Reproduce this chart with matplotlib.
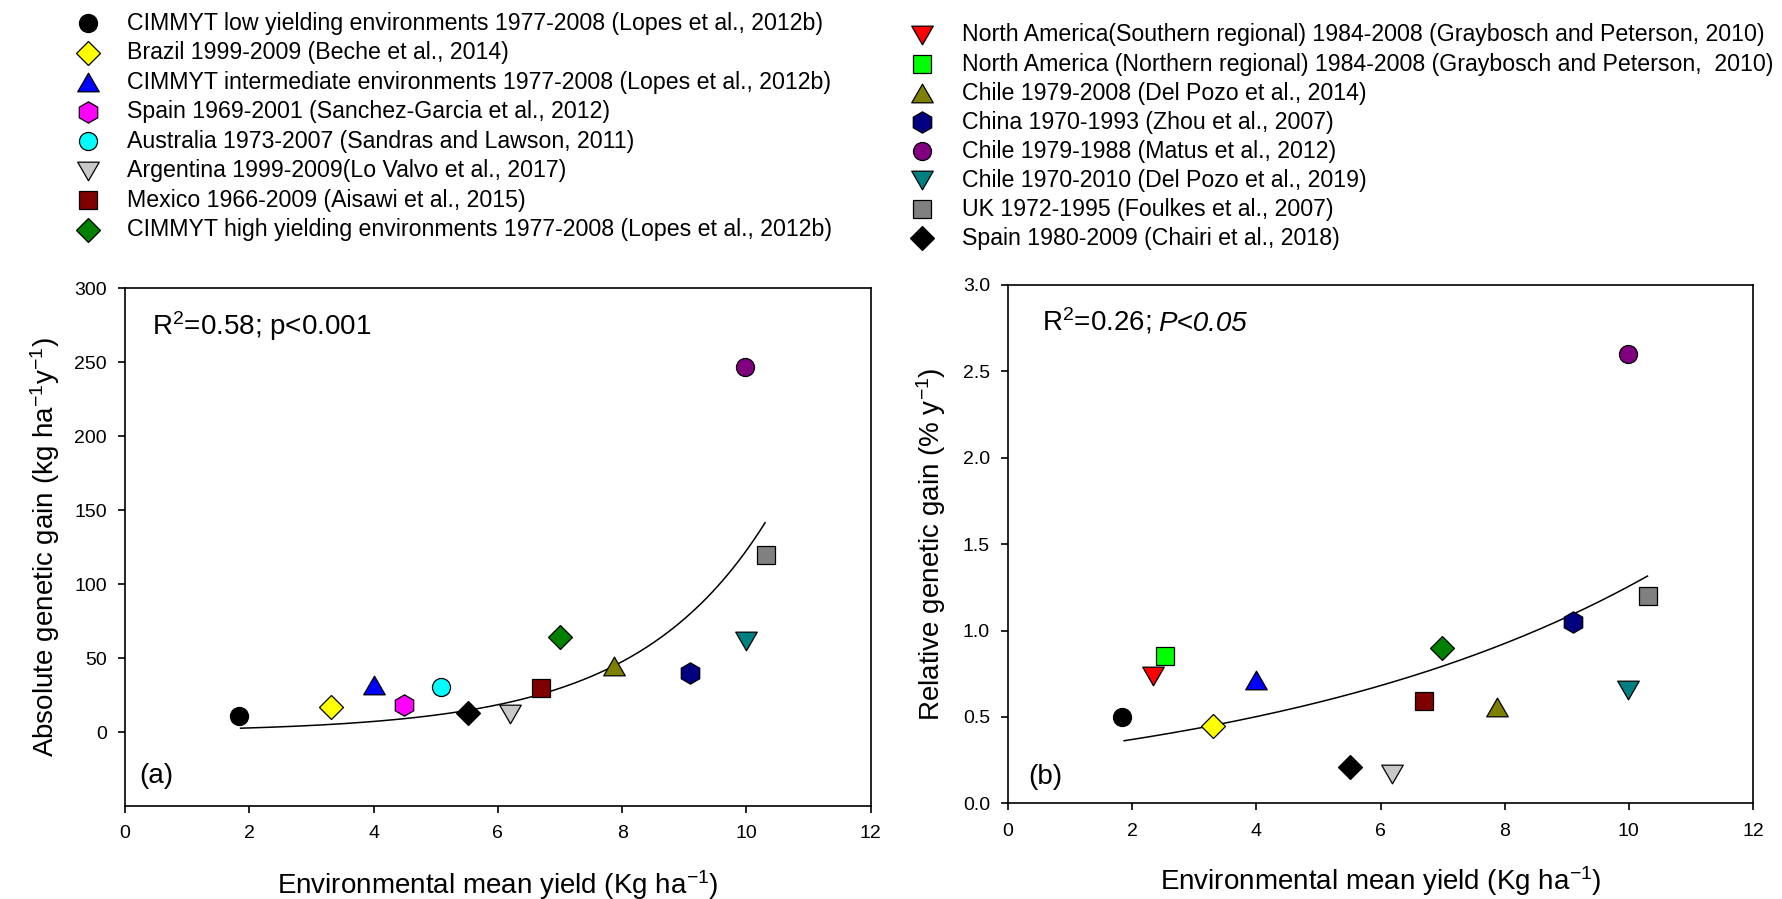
import numpy as np
import matplotlib
matplotlib.use("Agg")
import matplotlib.pyplot as plt
from matplotlib.lines import Line2D
from matplotlib.path import Path

plt.rcParams['font.family'] = ['Liberation Sans', 'DejaVu Sans']
plt.rcParams['mathtext.fontset'] = 'custom'
plt.rcParams['mathtext.rm'] = 'Liberation Sans'
plt.rcParams['mathtext.it'] = 'Liberation Sans:italic'
plt.rcParams['mathtext.default'] = 'regular'

# ---- data -------------------------------------------------------------
studies = [
    "CIMMYT low yielding environments 1977-2008 (Lopes et al., 2012b)",
    "Brazil 1999-2009 (Beche et al., 2014)",
    "CIMMYT intermediate environments 1977-2008 (Lopes et al., 2012b)",
    "Spain 1969-2001 (Sanchez-Garcia et al., 2012)",
    "Australia 1973-2007 (Sandras and Lawson, 2011)",
    "Argentina 1999-2009(Lo Valvo et al., 2017)",
    "Mexico 1966-2009 (Aisawi et al., 2015)",
    "CIMMYT high yielding environments 1977-2008 (Lopes et al., 2012b)",
    "North America(Southern regional) 1984-2008 (Graybosch and Peterson, 2010)",
    "North America (Northern regional) 1984-2008 (Graybosch and Peterson,  2010)",
    "Chile 1979-2008 (Del Pozo et al., 2014)",
    "China 1970-1993 (Zhou et al., 2007)",
    "Chile 1979-1988 (Matus et al., 2012)",
    "Chile 1970-2010 (Del Pozo et al., 2019)",
    "UK 1972-1995 (Foulkes et al., 2007)",
    "Spain 1980-2009 (Chairi et al., 2018)",
]
nan = np.nan
# environmental mean yield and absolute genetic gain (kg ha-1 y-1)
yield_abs = [1.84, 3.31, 4.00, 4.49, 5.08, 6.19, 6.70, 7.00, nan, nan, 7.87, 9.10, 9.98, 10.00, 10.31, 5.52]
gain_abs = [10.6, 16.8, 31.5, 18.0, 30.7, 12.5, 30.0, 64.0, nan, nan, 44.5, 40.0, 247.0, 61.5, 120.0, 13.0]
# environmental mean yield and relative genetic gain (% y-1)
yield_rel = [1.84, 3.31, 4.00, nan, nan, 6.19, 6.70, 6.99, 2.34, 2.53, 7.87, 9.10, 9.98, 9.99, 10.31, 5.51]
gain_rel = [0.50, 0.45, 0.715, nan, nan, 0.17, 0.59, 0.90, 0.735, 0.85, 0.555, 1.05, 2.60, 0.655, 1.20, 0.21]

# exponential fits y = a * exp(b * x) over the fitted yield range
fit_abs_coef = [1.076, 0.4737]
fit_abs_range = [1.86, 10.30]
fit_rel_coef = [0.272, 0.153]
fit_rel_range = [1.87, 10.30]

abs_ticks_x = [0, 2, 4, 6, 8, 10, 12]
abs_ticks_y = [0, 50, 100, 150, 200, 250, 300]
rel_ticks_y = [0.0, 0.5, 1.0, 1.5, 2.0, 2.5, 3.0]

# ---- styles -----------------------------------------------------------
tri_up = Path([(0, 0.433), (-0.5, -0.433), (0.5, -0.433), (0, 0.433)],
              [Path.MOVETO, Path.LINETO, Path.LINETO, Path.CLOSEPOLY])
tri_down = Path([(0, -0.433), (-0.5, 0.433), (0.5, 0.433), (0, -0.433)],
                [Path.MOVETO, Path.LINETO, Path.LINETO, Path.CLOSEPOLY])
shape_size = {'o': 13, 'D': 12, 'up': 15.5, 'down': 15.5, 'h': 15.3, 's': 13}
shape_marker = {'o': 'o', 'D': 'D', 'up': tri_up, 'down': tri_down, 'h': 'h', 's': 's'}

shapes = ['o', 'D', 'up', 'h', 'o', 'down', 's', 'D',
          'down', 's', 'up', 'h', 'o', 'down', 's', 'D']
colors = ['#000000', '#FFFF00', '#0000FF', '#FF00FF', '#00FFFF', '#C8C8C8', '#800000', '#008000',
          '#FF0000', '#00FF00', '#808000', '#000080', '#800080', '#008080', '#808080', '#000000']


def marker_kw(i):
    s = shapes[i]
    return dict(marker=shape_marker[s], markersize=shape_size[s],
                markerfacecolor=colors[i], markeredgecolor='black',
                markeredgewidth=0.9, linestyle='none')


W, H = 1782, 899
fig = plt.figure(figsize=(W / 100, H / 100), dpi=100)

ax1 = fig.add_axes([125 / W, 1 - 806 / H, 745.7 / W, 517.7 / H])
ax2 = fig.add_axes([1008 / W, 1 - 803.3 / H, 745.0 / W, 518.3 / H])


def style_axes(ax):
    for sp in ax.spines.values():
        sp.set_linewidth(1.2)
    ax.tick_params(direction='out', length=5, width=1.2, labelsize=14,
                   top=False, right=False)
    ax.tick_params(axis='x', pad=9)
    ax.tick_params(axis='y', pad=8)
    ax.set_xlim(0, 12)
    ax.set_xticks(abs_ticks_x)


def draw_fit(ax, coef, rng):
    xs = np.linspace(rng[0], rng[1], 200)
    ax.plot(xs, coef[0] * np.exp(coef[1] * xs), color='black', lw=1.1, zorder=2)


# panel (a): absolute genetic gain
style_axes(ax1)
ax1.set_ylim(-50, 300)
ax1.set_yticks(abs_ticks_y)
draw_fit(ax1, fit_abs_coef, fit_abs_range)
for i in range(len(studies)):
    if not np.isnan(yield_abs[i]):
        ax1.plot([yield_abs[i]], [gain_abs[i]], zorder=3, **marker_kw(i))
ax1.set_xlabel("Environmental mean yield (Kg ha$^{-1}$)", fontsize=20)
ax1.set_ylabel("Absolute genetic gain (kg ha$^{-1}$y$^{-1}$)", fontsize=20)
ax1.xaxis.set_label_coords(0.5, -0.12)
ax1.yaxis.set_label_coords(-0.084, 0.5)
ax1.text(0.0366, 0.91, "R$^2$=0.58; p<0.001", transform=ax1.transAxes,
         fontsize=20, ha='left', va='baseline')
ax1.text(0.0185, 0.045, "(a)", transform=ax1.transAxes, fontsize=20,
         ha='left', va='baseline')

# panel (b): relative genetic gain
style_axes(ax2)
ax2.set_ylim(0, 3.0)
ax2.set_yticks(rel_ticks_y)
ax2.set_yticklabels([f"{v:.1f}" for v in rel_ticks_y])
draw_fit(ax2, fit_rel_coef, fit_rel_range)
for i in range(len(studies)):
    if not np.isnan(yield_rel[i]):
        ax2.plot([yield_rel[i]], [gain_rel[i]], zorder=3, **marker_kw(i))
ax2.set_xlabel("Environmental mean yield (Kg ha$^{-1}$)", fontsize=20)
ax2.set_ylabel("Relative genetic gain (% y$^{-1}$)", fontsize=20)
ax2.xaxis.set_label_coords(0.5, -0.118)
ax2.yaxis.set_label_coords(-0.081, 0.5)
r2b = ax2.text(0.046, 0.912, "R$^2$=0.26;", transform=ax2.transAxes,
               fontsize=20, ha='left', va='baseline')
ax2.annotate("P<0.05", xy=(1, 0), xycoords=r2b, xytext=(5, 0),
             textcoords='offset points', fontsize=20, style='italic',
             ha='left', va='bottom')
ax2.text(0.0275, 0.037, "(b)", transform=ax2.transAxes, fontsize=20,
         ha='left', va='baseline')

# legend in two columns above the panels
legend_cols = [
    dict(items=range(0, 8), mx=88, tx=127, y0=23.3, dy=29.5),
    dict(items=range(8, 16), mx=922.5, tx=962, y0=35.0, dy=29.05),
]
for col in legend_cols:
    for k, i in enumerate(col['items']):
        yy = 1 - (col['y0'] + k * col['dy']) / H
        fig.add_artist(Line2D([col['mx'] / W], [yy], transform=fig.transFigure,
                              **marker_kw(i)))
        fig.text(col['tx'] / W, yy, studies[i], fontsize=16.7,
                 ha='left', va='center')

fig.savefig("out.png", dpi=100)
